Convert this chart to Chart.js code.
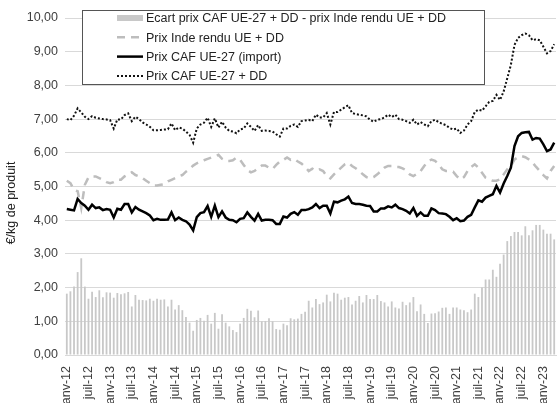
<!DOCTYPE html>
<html>
<head>
<meta charset="utf-8">
<script src="https://cdn.jsdelivr.net/npm/chart.js@4.4.1/dist/chart.umd.min.js"></script>
<style>
  html, body { margin: 0; padding: 0; background: #fff; overflow: hidden; }
  #wrap { width: 557px; height: 403px; }
</style>
</head>
<body>
<div id="wrap"><canvas id="c" width="557" height="403"></canvas></div>
<script>
// months janv-12 .. avr-23
const monthNames = ['janv', 'févr', 'mars', 'avr', 'mai', 'juin', 'juil', 'août', 'sept', 'oct', 'nov', 'déc'];
const months = [];
for (let y = 12; y <= 23; y++) {
  for (let m = 0; m < 12; m++) {
    if (y === 23 && m > 3) break;
    months.push(monthNames[m] + '-' + y);
  }
}

const ecart = [
  1.82, 1.89, 2.03, 2.46, 2.87, 2.03, 1.67, 1.88, 1.72, 1.92, 1.71, 1.86,
  1.85, 1.70, 1.84, 1.80, 1.83, 1.87, 1.44, 1.78, 1.64, 1.63, 1.62, 1.67,
  1.61, 1.67, 1.64, 1.65, 1.44, 1.64, 1.35, 1.48, 1.33, 1.13, 0.96, 0.72,
  1.04, 1.10, 1.02, 1.19, 0.93, 1.25, 0.78, 1.21, 0.96, 0.85, 0.74, 0.68,
  0.93, 1.10, 1.37, 1.31, 1.12, 1.32, 1.00, 1.01, 1.09, 1.00, 0.77, 0.75,
  0.93, 0.88, 1.09, 1.06, 1.08, 1.22, 1.28, 1.61, 1.41, 1.66, 1.51, 1.56,
  1.79, 1.59, 1.85, 1.82, 1.64, 1.70, 1.72, 1.50, 1.61, 1.75, 1.56, 1.78,
  1.66, 1.66, 1.78, 1.60, 1.56, 1.44, 1.59, 1.41, 1.38, 1.58, 1.48, 1.56,
  1.72, 1.30, 1.50, 1.22, 0.95, 1.23, 1.24, 1.29, 1.40, 1.41, 1.22, 1.41,
  1.41, 1.35, 1.33, 1.27, 1.35, 1.82, 1.72, 2.00, 2.24, 2.24, 2.53, 2.32,
  2.71, 2.98, 3.38, 3.53, 3.65, 3.65, 3.55, 3.82, 3.55, 3.70, 3.86, 3.86,
  3.72, 3.60, 3.60, 3.43
];

const prixInde = [
  5.17, 5.10, 4.90, 4.86, 4.36, 5.05, 5.27, 5.30, 5.30, 5.25, 5.20, 5.13,
  5.10, 5.13, 5.20, 5.20, 5.30, 5.36, 5.42, 5.34, 5.30, 5.25, 5.17, 5.10,
  5.03, 5.03, 5.05, 5.07, 5.15, 5.20, 5.25, 5.30, 5.34, 5.44, 5.52, 5.62,
  5.69, 5.74, 5.78, 5.82, 5.86, 5.89, 5.94, 5.82, 5.76, 5.76, 5.78, 5.86,
  5.79, 5.64, 5.49, 5.42, 5.46, 5.54, 5.62, 5.62, 5.56, 5.52, 5.64, 5.74,
  5.79, 5.86, 5.79, 5.82, 5.74, 5.68, 5.58, 5.46, 5.53, 5.47, 5.51, 5.46,
  5.31, 5.24, 5.36, 5.46, 5.56, 5.66, 5.71, 5.61, 5.54, 5.46, 5.36, 5.28,
  5.24, 5.28, 5.36, 5.46, 5.56, 5.61, 5.61, 5.58, 5.58, 5.54, 5.48, 5.36,
  5.31, 5.38, 5.46, 5.61, 5.74, 5.80, 5.76, 5.66, 5.51, 5.46, 5.46, 5.44,
  5.31, 5.21, 5.28, 5.46, 5.58, 5.66, 5.56, 5.41, 5.26, 5.21, 5.17, 5.17,
  5.21, 5.36, 5.51, 5.61, 5.80, 5.87, 5.90, 5.87, 5.80, 5.71, 5.58, 5.46,
  5.34, 5.24, 5.46, 5.61
];

const prixCaf = [
  4.33, 4.31, 4.29, 4.63, 4.51, 4.43, 4.31, 4.46, 4.36, 4.38, 4.30, 4.33,
  4.31, 4.08, 4.34, 4.31, 4.48, 4.48, 4.23, 4.39, 4.31, 4.26, 4.21, 4.14,
  4.00, 4.04, 4.01, 4.01, 4.02, 4.23, 4.00, 4.08, 4.01, 3.97, 3.87, 3.70,
  4.09, 4.21, 4.24, 4.42, 4.10, 4.43, 4.09, 4.26, 4.08, 4.01, 4.00, 3.94,
  4.04, 4.06, 4.23, 4.10, 3.99, 4.19, 3.99, 4.01, 4.01, 4.00, 3.89, 3.89,
  4.11, 4.08, 4.19, 4.24, 4.16, 4.30, 4.30, 4.33, 4.38, 4.48, 4.36, 4.43,
  4.43, 4.20, 4.55, 4.53, 4.58, 4.62, 4.70, 4.51, 4.48, 4.48, 4.46, 4.43,
  4.42, 4.26, 4.26, 4.35, 4.35, 4.41, 4.38, 4.46, 4.36, 4.33, 4.28, 4.20,
  4.36, 4.13, 4.23, 4.13, 4.13, 4.35, 4.30, 4.21, 4.20, 4.18, 4.10, 4.00,
  4.06, 3.97, 3.99, 4.10, 4.16, 4.38, 4.59, 4.55, 4.67, 4.72, 4.77, 5.02,
  4.82, 5.09, 5.31, 5.56, 6.20, 6.49, 6.59, 6.61, 6.62, 6.39, 6.44, 6.42,
  6.25, 6.05, 6.10, 6.30
];

const prixCafDd = [
  7.00, 6.97, 7.10, 7.32, 7.20, 7.07, 7.00, 7.09, 7.04, 7.02, 7.00, 6.99,
  6.97, 6.72, 6.99, 6.99, 7.12, 7.17, 6.94, 7.07, 7.00, 6.90, 6.84, 6.77,
  6.67, 6.67, 6.68, 6.69, 6.70, 6.87, 6.67, 6.75, 6.72, 6.63, 6.53, 6.30,
  6.72, 6.84, 6.89, 7.04, 6.77, 7.02, 6.75, 6.92, 6.75, 6.65, 6.63, 6.58,
  6.69, 6.72, 6.87, 6.77, 6.65, 6.82, 6.65, 6.66, 6.65, 6.63, 6.55, 6.48,
  6.72, 6.72, 6.80, 6.84, 6.77, 6.94, 6.96, 6.98, 6.94, 7.13, 7.05, 7.05,
  7.18, 6.84, 7.21, 7.21, 7.28, 7.35, 7.41, 7.18, 7.15, 7.13, 7.11, 7.08,
  6.98, 6.92, 6.98, 7.00, 7.05, 7.13, 7.06, 7.13, 7.00, 6.98, 6.94, 6.89,
  6.98, 6.84, 6.91, 6.84, 6.79, 6.94, 6.98, 6.91, 6.86, 6.82, 6.74, 6.69,
  6.72, 6.59, 6.66, 6.84, 6.94, 7.21, 7.28, 7.25, 7.38, 7.51, 7.54, 7.72,
  7.57, 7.82, 8.21, 8.61, 9.20, 9.41, 9.49, 9.54, 9.49, 9.34, 9.37, 9.34,
  9.15, 8.95, 9.02, 9.22
];

const yTicks = [0, 1, 2, 3, 4, 5, 6, 7, 8, 9, 10];
const yTitle = '€/kg de produit';

const GRID = '#d9d9d9';
const TEXT = '#404040';
const FONT = 'Liberation Sans, Arial, sans-serif';

// legend drawn inside the plot, boxed, like the Excel original
const boxLegend = {
  id: 'boxLegend',
  afterDatasetsDraw(chart) {
    const ctx = chart.ctx;
    const x0 = 82, y0 = 10, w = 402, h = 74;
    ctx.save();
    ctx.fillStyle = '#fff';
    ctx.fillRect(x0, y0, w, h);
    ctx.strokeStyle = '#555';
    ctx.lineWidth = 1;
    ctx.strokeRect(x0 + 0.5, y0 + 0.5, w, h);
    ctx.font = '12.5px ' + FONT;
    ctx.textBaseline = 'middle';
    chart.data.datasets.forEach((ds, i) => {
      const y = 18 + i * 19.3;
      const sx = 117, ex = 143;
      if (ds.type === 'bar') {
        ctx.fillStyle = ds.backgroundColor;
        ctx.fillRect(sx, y - 3, ex - sx, 6);
      } else {
        ctx.beginPath();
        ctx.strokeStyle = ds.borderColor;
        ctx.lineWidth = ds.borderWidth;
        ctx.setLineDash(ds.borderDash || []);
        ctx.moveTo(sx, y);
        ctx.lineTo(ex, y);
        ctx.stroke();
        ctx.setLineDash([]);
      }
      ctx.fillStyle = '#222';
      ctx.fillText(ds.label, 146, y + 1);
    });
    ctx.restore();
  }
};

// y axis title, placed like the original (a little below the plot centre)
const axisTitle = {
  id: 'axisTitle',
  afterDraw(chart) {
    const ctx = chart.ctx;
    ctx.save();
    ctx.translate(12, 203);
    ctx.rotate(-Math.PI / 2);
    ctx.font = '12.5px ' + FONT;
    ctx.fillStyle = '#222';
    ctx.textAlign = 'center';
    ctx.textBaseline = 'middle';
    ctx.fillText(yTitle, 0, 0);
    ctx.restore();
  }
};

new Chart(document.getElementById('c'), {
  data: {
    labels: months,
    datasets: [
      {
        type: 'bar',
        label: 'Ecart prix CAF UE-27 + DD - prix Inde rendu UE + DD',
        data: ecart,
        backgroundColor: '#c8c8c8',
        categoryPercentage: 1,
        barPercentage: 0.5,
        order: 4
      },
      {
        type: 'line',
        label: 'Prix Inde rendu UE + DD',
        data: prixInde,
        borderColor: '#bdbdbd',
        borderWidth: 2.5,
        borderDash: [8, 6],
        pointRadius: 0,
        tension: 0,
        order: 3
      },
      {
        type: 'line',
        label: 'Prix CAF UE-27 (import)',
        data: prixCaf,
        borderColor: '#000',
        borderWidth: 2.5,
        pointRadius: 0,
        tension: 0,
        order: 2
      },
      {
        type: 'line',
        label: 'Prix CAF UE-27 + DD',
        data: prixCafDd,
        borderColor: '#111',
        borderWidth: 2,
        borderDash: [2, 2],
        pointRadius: 0,
        tension: 0,
        order: 1
      }
    ]
  },
  options: {
    responsive: false,
    animation: false,
    layout: { padding: { top: 18, right: 1, left: 0, bottom: 0 } },
    plugins: {
      legend: { display: false },
      tooltip: { enabled: false }
    },
    scales: {
      x: {
        type: 'category',
        offset: true,
        grid: { display: false },
        border: { display: true, color: GRID, width: 1 },
        ticks: {
          autoSkip: false,
          minRotation: 90,
          maxRotation: 90,
          padding: 3,
          color: TEXT,
          font: { family: FONT, size: 12.5 },
          callback: (v, i) => (i % 6 === 0 ? months[i] : '')
        },
        afterFit(scale) {
          scale.height = 48;
          scale.paddingLeft = 0;
          scale.paddingRight = 0;
        }
      },
      y: {
        min: 0,
        max: 10,
        afterBuildTicks(scale) {
          scale.ticks = yTicks.map(v => ({ value: v }));
        },
        grid: { color: GRID, drawTicks: false },
        border: { display: false },
        ticks: {
          padding: 7,
          color: TEXT,
          font: { family: FONT, size: 12.5 },
          callback: v => v.toFixed(2).replace('.', ',')
        },
        afterFit(scale) {
          scale.width = 65;
          scale.paddingTop = 0;
          scale.paddingBottom = 0;
        }
      }
    }
  },
  plugins: [boxLegend, axisTitle]
});
</script>
</body>
</html>
